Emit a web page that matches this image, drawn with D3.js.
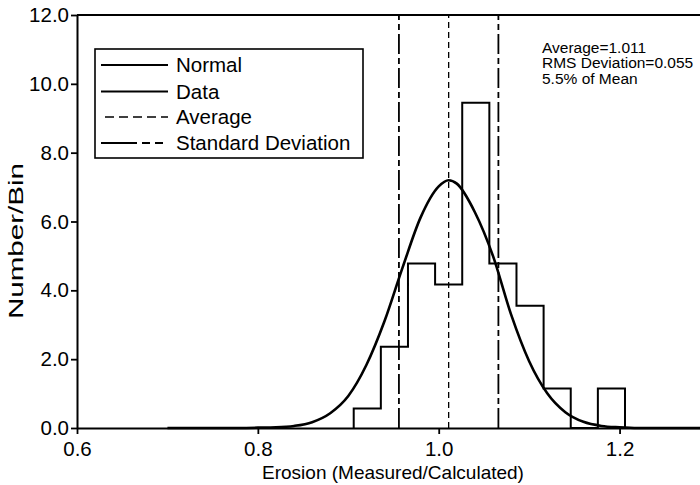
<!DOCTYPE html>
<html>
<head>
<meta charset="utf-8">
<script src="https://cdn.jsdelivr.net/npm/d3@7"></script>
<style>
  html, body { margin: 0; padding: 0; background: #fff; }
  svg { display: block; }
  text { font-family: "Liberation Sans", Arial, Helvetica, sans-serif; fill: #000; }
</style>
</head>
<body>
<svg id="chart" width="700" height="485"></svg>
<script>
// Histogram of erosion ratios (measured / calculated)
const binEdges = [0.906, 0.936, 0.966, 0.996, 1.026, 1.056, 1.086, 1.116, 1.146, 1.176, 1.206];
const binCounts = [0.57, 2.36, 4.78, 4.17, 9.45, 4.78, 3.55, 1.15, 0, 1.15];

// Fitted normal curve, sampled along the ratio axis
const normalX = [0.70, 0.76, 0.80, 0.82, 0.84, 0.86, 0.88, 0.90, 0.92, 0.94, 0.96, 0.98, 1.00, 1.011, 1.02, 1.04, 1.06, 1.08, 1.10, 1.12, 1.14, 1.16, 1.18, 1.20, 1.22, 1.30];
const normalY = [0.00, 0.00, 0.01, 0.02, 0.06, 0.17, 0.43, 0.93, 1.83, 3.10, 4.66, 6.12, 7.02, 7.20, 7.10, 6.27, 5.00, 3.30, 1.94, 1.01, 0.46, 0.18, 0.06, 0.02, 0.00, 0.00];

const average = 1.011;
const rmsDeviation = 0.055;

const xTicks = [0.6, 0.8, 1.0, 1.2];
const yTicks = [0, 2, 4, 6, 8, 10, 12];

const statLines = ["Average=1.011", "RMS Deviation=0.055", "5.5% of Mean"];
const legendItems = ["Normal", "Data", "Average", "Standard Deviation"];

const svg = d3.select("#chart");

const x = d3.scaleLinear().domain([0.6, 1.3]).range([77, 710]);
const y = d3.scaleLinear().domain([0, 12]).range([428, 15]);

const stdDash = "20,4,6,4";
const avgDash = "6,4";

// Top frame line
svg.append("line")
  .attr("x1", x(0.6)).attr("x2", 700)
  .attr("y1", y(12)).attr("y2", y(12))
  .attr("stroke", "#000").attr("stroke-width", 2);

// Axes
const xAxis = svg.append("g")
  .attr("transform", `translate(0,${y(0)})`)
  .call(d3.axisBottom(x).tickValues(xTicks).tickFormat(d3.format(".1f")).tickSize(6).tickSizeOuter(0).tickPadding(7));
const yAxis = svg.append("g")
  .attr("transform", `translate(${x(0.6)},0)`)
  .call(d3.axisLeft(y).tickValues(yTicks).tickFormat(d3.format(".1f")).tickSize(6).tickSizeOuter(0).tickPadding(2));

[xAxis, yAxis].forEach(g => {
  g.select(".domain").attr("stroke", "#000").attr("stroke-width", 2);
  g.selectAll(".tick line").attr("stroke", "#000").attr("stroke-width", 1.8);
  g.selectAll(".tick text").attr("font-size", 20.5).attr("font-family", "Liberation Sans, Arial, sans-serif").attr("fill", "#000");
});

// Axis titles
svg.append("text")
  .attr("x", 393).attr("y", 479)
  .attr("text-anchor", "middle").attr("font-size", 19)
  .text("Erosion (Measured/Calculated)");
svg.append("text")
  .attr("transform", `translate(23,241) rotate(-90)`)
  .attr("text-anchor", "middle").attr("font-size", 21)
  .attr("textLength", 156).attr("lengthAdjust", "spacingAndGlyphs")
  .text("Number/Bin");

// Average and standard-deviation markers
svg.append("line")
  .attr("x1", x(average)).attr("x2", x(average))
  .attr("y1", y(0)).attr("y2", y(12))
  .attr("stroke", "#000").attr("stroke-width", 1.3)
  .attr("stroke-dasharray", avgDash);
[average - rmsDeviation, average + rmsDeviation].forEach(v => {
  svg.append("line")
    .attr("x1", x(v)).attr("x2", x(v))
    .attr("y1", y(0)).attr("y2", y(12))
    .attr("stroke", "#000").attr("stroke-width", 1.8)
    .attr("stroke-dasharray", stdDash);
});

// Histogram outline (step shape)
const stepPts = [[binEdges[0], 0]];
binCounts.forEach((c, i) => {
  stepPts.push([binEdges[i], c]);
  stepPts.push([binEdges[i + 1], c]);
});
stepPts.push([binEdges[binEdges.length - 1], 0]);
svg.append("path")
  .attr("d", d3.line().x(d => x(d[0])).y(d => y(d[1]))(stepPts))
  .attr("fill", "none").attr("stroke", "#000").attr("stroke-width", 2)
  .attr("stroke-linejoin", "miter");

// Normal curve
svg.append("path")
  .attr("d", d3.line().x(d => x(d[0])).y(d => y(d[1])).curve(d3.curveMonotoneX)(normalX.map((v, i) => [v, normalY[i]])))
  .attr("fill", "none").attr("stroke", "#000").attr("stroke-width", 2.6);

// Legend
const lg = svg.append("g");
lg.append("rect")
  .attr("x", 95).attr("y", 49).attr("width", 268).attr("height", 109)
  .attr("fill", "#fff").attr("stroke", "#000").attr("stroke-width", 1.6);
const legendY = [65, 91.5, 117, 143];
const legendStyle = [
  { w: 2.2, dash: null },
  { w: 2.0, dash: null },
  { w: 1.3, dash: "9,5" },
  { w: 1.8, dash: "36,5,8,5,8,5" }
];
legendItems.forEach((label, i) => {
  lg.append("line")
    .attr("x1", i === 2 ? 105 : 101).attr("x2", 168)
    .attr("y1", legendY[i]).attr("y2", legendY[i])
    .attr("stroke", "#000").attr("stroke-width", legendStyle[i].w)
    .attr("stroke-dasharray", legendStyle[i].dash);
  lg.append("text")
    .attr("x", 176).attr("y", legendY[i] + 7)
    .attr("font-size", 20.5)
    .text(label);
});

// Summary statistics
statLines.forEach((t, i) => {
  svg.append("text")
    .attr("x", 542).attr("y", 52.5 + i * 15.5)
    .attr("font-size", 15.5)
    .text(t);
});
</script>
</body>
</html>
